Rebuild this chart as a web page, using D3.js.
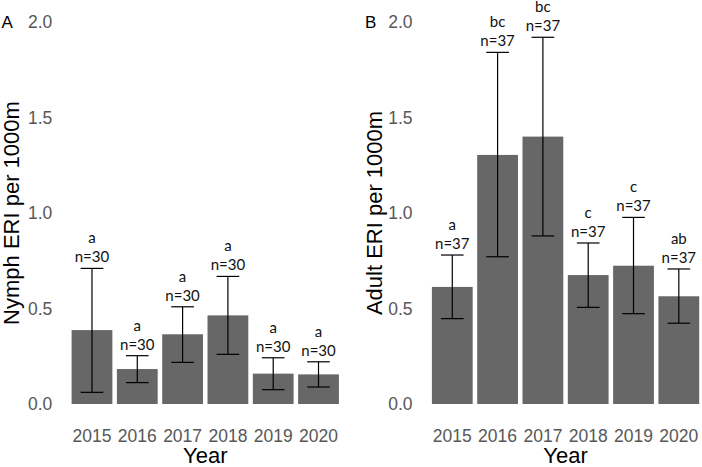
<!DOCTYPE html>
<html>
<head>
<meta charset="utf-8">
<script src="https://cdn.jsdelivr.net/npm/d3@7/dist/d3.min.js"></script>
<style>
  html, body { margin: 0; padding: 0; background: #fff; }
  svg { display: block; }
</style>
</head>
<body>
<svg id="chart" width="702" height="467"></svg>
<script>
const years = ["2015", "2016", "2017", "2018", "2019", "2020"];
const yTicks = [0, 0.5, 1.0, 1.5, 2.0];

const nymphMean = [0.387, 0.183, 0.365, 0.464, 0.159, 0.155];
const nymphLow  = [0.061, 0.112, 0.218, 0.260, 0.075, 0.089];
const nymphHigh = [0.710, 0.253, 0.509, 0.668, 0.242, 0.221];
const nymphLetters = ["a", "a", "a", "a", "a", "a"];
const nymphN = ["n=30", "n=30", "n=30", "n=30", "n=30", "n=30"];

const adultMean = [0.613, 1.304, 1.400, 0.675, 0.724, 0.564];
const adultLow  = [0.447, 0.771, 0.880, 0.506, 0.473, 0.423];
const adultHigh = [0.780, 1.841, 1.920, 0.843, 0.977, 0.707];
const adultLetters = ["a", "bc", "bc", "c", "c", "ab"];
const adultN = ["n=37", "n=37", "n=37", "n=37", "n=37", "n=37"];

const svg = d3.select("#chart");
const tickFont = "Liberation Sans, Arial, sans-serif";
const annFont = "Lato, 'Open Sans', sans-serif";

function drawPanel(opts) {
  const { left, right, top, bottom, mean, low, high, letters, ns, title, tag, tagX } = opts;
  const g = svg.append("g");
  const x = d3.scaleBand().domain(years).range([left, right])
    .paddingInner(0.1).paddingOuter(0.15);
  const y = d3.scaleLinear().domain([0, 2]).range([bottom, top]);
  const data = years.map((yr, i) => ({ yr, m: mean[i], lo: low[i], hi: high[i], l: letters[i], n: ns[i] }));

  // bars
  g.selectAll("rect.bar").data(data).join("rect")
    .attr("class", "bar")
    .attr("x", d => x(d.yr))
    .attr("width", x.bandwidth())
    .attr("y", d => y(d.m))
    .attr("height", d => y(0) - y(d.m))
    .attr("fill", "#676767");

  // error bars
  const cap = x.step() * 0.25;
  const cx = d => x(d.yr) + x.bandwidth() / 2;
  const eb = g.selectAll("g.eb").data(data).join("g").attr("class", "eb")
    .attr("stroke", "#000").attr("stroke-width", 1.2);
  eb.append("line").attr("x1", cx).attr("x2", cx).attr("y1", d => y(d.lo)).attr("y2", d => y(d.hi));
  eb.append("line").attr("x1", d => cx(d) - cap).attr("x2", d => cx(d) + cap).attr("y1", d => y(d.hi)).attr("y2", d => y(d.hi));
  eb.append("line").attr("x1", d => cx(d) - cap).attr("x2", d => cx(d) + cap).attr("y1", d => y(d.lo)).attr("y2", d => y(d.lo));

  // annotations
  g.selectAll("text.nlab").data(data).join("text")
    .attr("class", "nlab")
    .attr("x", cx).attr("y", d => y(d.hi) - 6)
    .attr("text-anchor", "middle")
    .style("font-family", annFont).style("font-size", "15px").attr("fill", "#111")
    .text(d => d.n);
  g.selectAll("text.llab").data(data).join("text")
    .attr("class", "llab")
    .attr("x", cx).attr("y", d => y(d.hi) - 25)
    .attr("text-anchor", "middle")
    .style("font-family", annFont).style("font-size", "15px").attr("fill", "#111")
    .text(d => d.l);

  // y axis
  const ya = g.append("g").attr("transform", `translate(${left},0)`)
    .call(d3.axisLeft(y).tickValues(yTicks).tickFormat(d3.format(".1f")).tickSize(0).tickPadding(12.5));
  ya.select(".domain").remove();
  ya.selectAll("text").style("font-family", tickFont).style("font-size", "17.5px").attr("fill", "#575757");

  // x axis
  const xa = g.append("g").attr("transform", `translate(0,${bottom})`)
    .call(d3.axisBottom(x).tickSize(0).tickPadding(26));
  xa.select(".domain").remove();
  xa.selectAll("text").style("font-family", tickFont).style("font-size", "17.5px").attr("fill", "#575757");

  // titles
  g.append("text").attr("x", (left + right) / 2).attr("y", 462.5)
    .attr("text-anchor", "middle")
    .style("font-family", tickFont).style("font-size", "22px").attr("fill", "#000")
    .text("Year");
  g.append("text")
    .attr("transform", `translate(${opts.titleX},${(top + bottom) / 2}) rotate(-90)`)
    .attr("text-anchor", "middle")
    .style("font-family", tickFont).style("font-size", "22px").attr("fill", "#000")
    .text(title);
  g.append("text").attr("x", tagX).attr("y", 27.5)
    .style("font-family", tickFont).style("font-size", "17px").attr("fill", "#000")
    .text(tag);
}

drawPanel({ left: 64.8, right: 345.7, top: 22, bottom: 404, mean: nymphMean, low: nymphLow, high: nymphHigh,
  letters: nymphLetters, ns: nymphN, title: "Nymph ERI per 1000m", tag: "A", tagX: 1.5, titleX: 19 });
drawPanel({ left: 425.1, right: 706, top: 22, bottom: 404, mean: adultMean, low: adultLow, high: adultHigh,
  letters: adultLetters, ns: adultN, title: "Adult ERI per 1000m", tag: "B", tagX: 365, titleX: 382 });
</script>
</body>
</html>
